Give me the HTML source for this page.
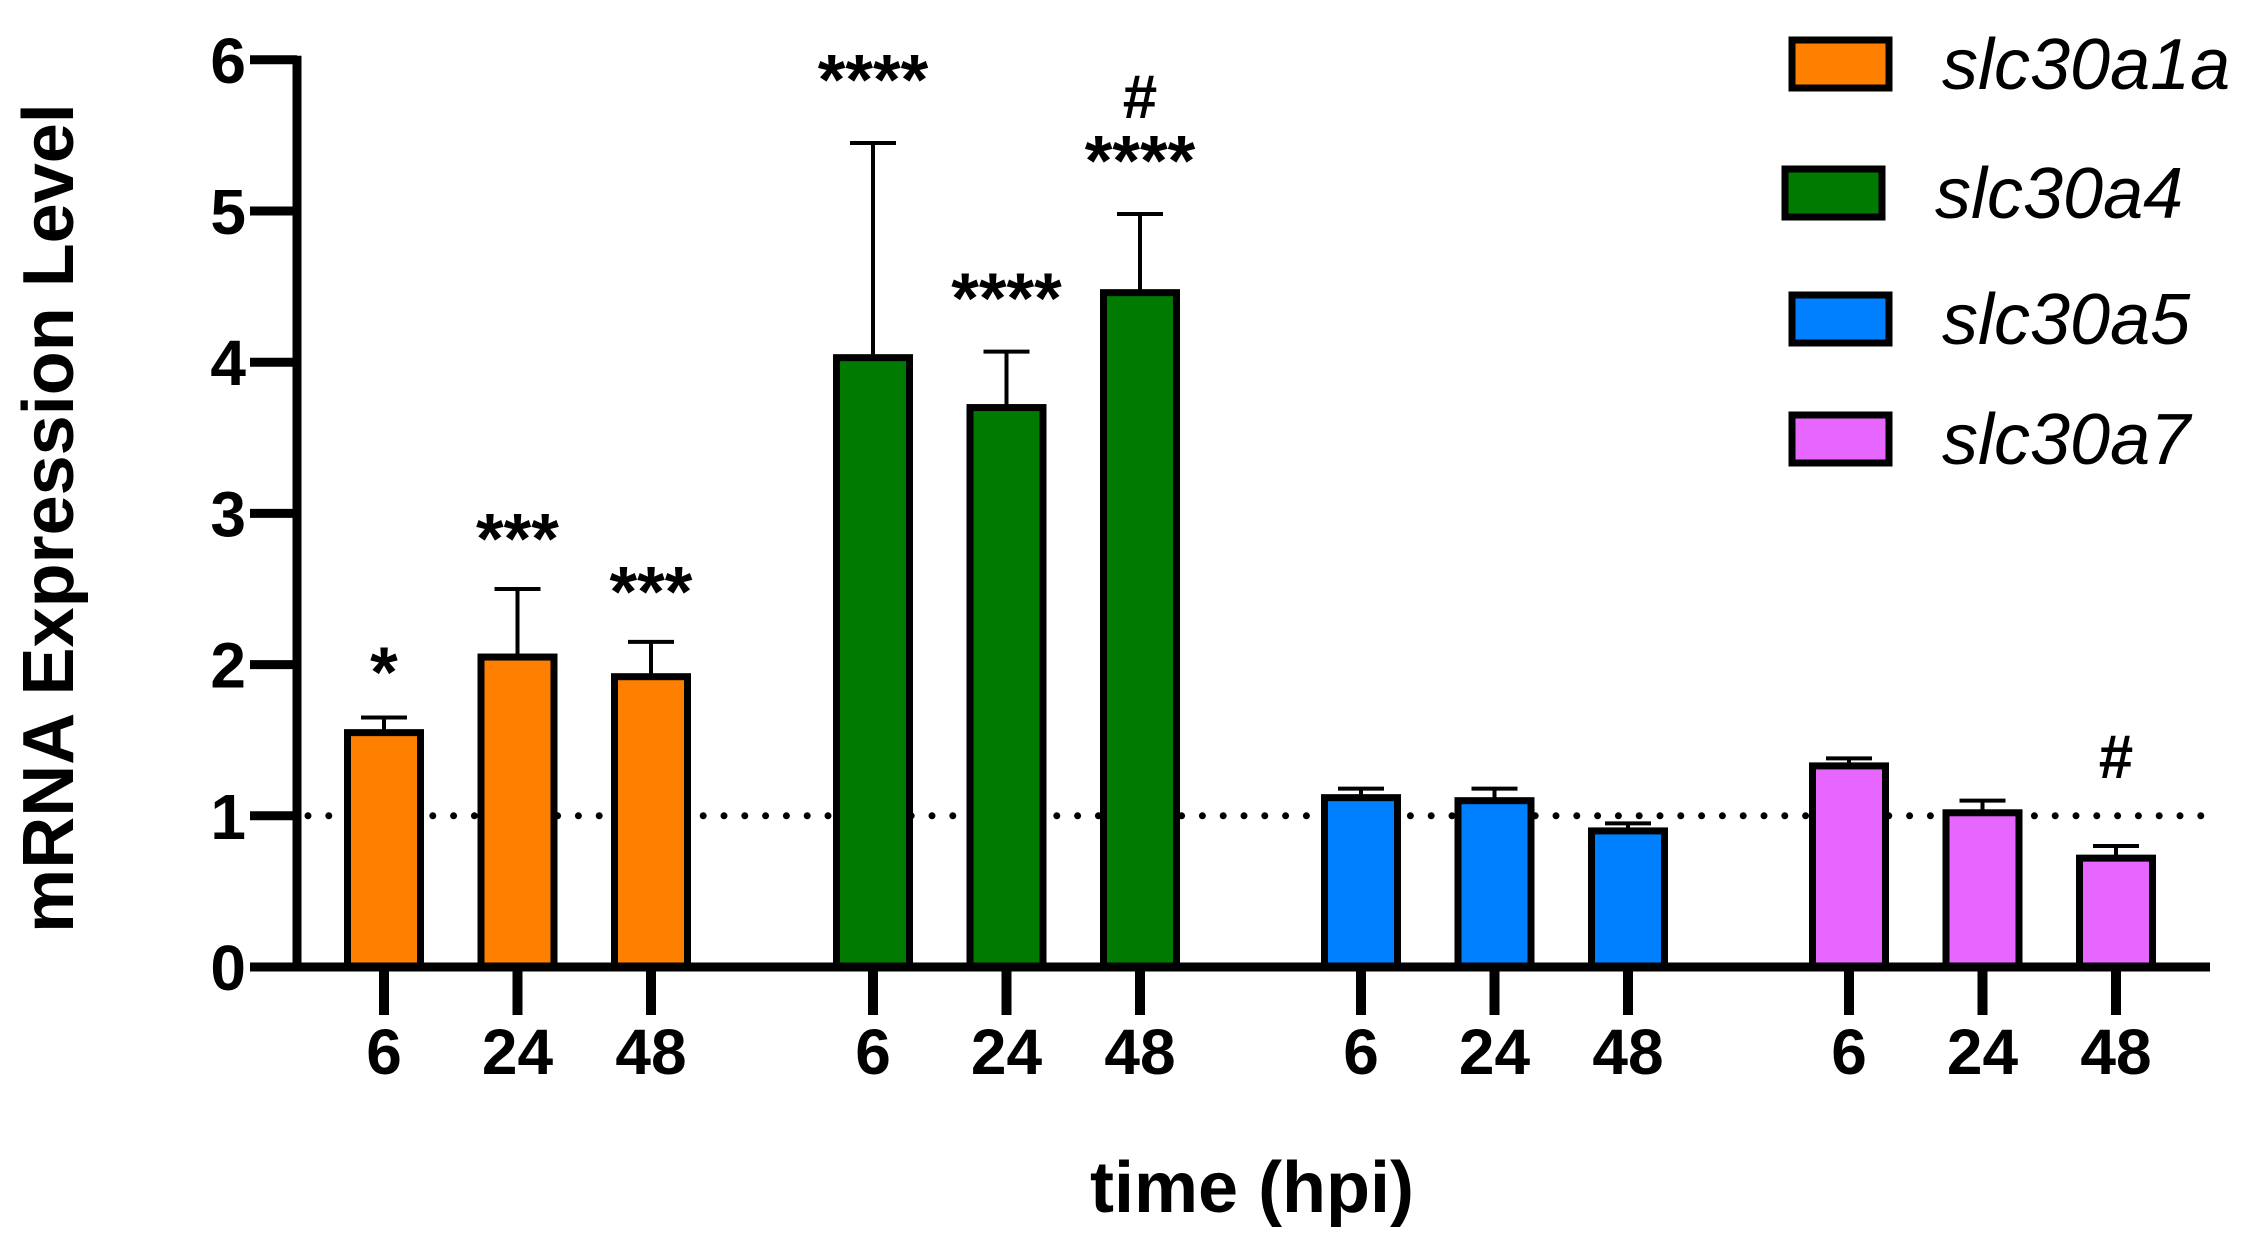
<!DOCTYPE html>
<html><head><meta charset="utf-8"><style>
html,body{margin:0;padding:0;background:#fff;}
svg{display:block;}
text{font-family:"Liberation Sans",Arial,sans-serif;}
</style></head><body>
<svg id="chart" width="2244" height="1248" viewBox="0 0 2244 1248" xmlns="http://www.w3.org/2000/svg">
<g id="dots"></g>
<g id="bars"></g>
<g id="axes"></g>
<g id="legend"></g>
<text x="0" y="0" transform="translate(73,518) rotate(-90)" text-anchor="middle" font-size="72" font-weight="bold">mRNA Expression Level</text>
<text x="1252" y="1212" text-anchor="middle" font-size="72" font-weight="bold">time (hpi)</text>
</svg>
<script>
const genes = ['slc30a1a','slc30a4','slc30a5','slc30a7'];
const colors = ['#ff8000','#007a00','#0080ff','#e666ff'];
const timeLabels = ['6','24','48'];
const means = [[1.55,2.05,1.92],[4.03,3.70,4.46],[1.12,1.10,0.90],[1.33,1.02,0.72]];
const errTops = [[1.65,2.50,2.15],[5.45,4.07,4.98],[1.18,1.18,0.95],[1.38,1.10,0.80]];
const stars = [['*','***','***'],['****','****','****'],['','',''],['','','']];
const hashes = [['','',''],['','','#'],['','',''],['','','#']];
const yTicks = [0,1,2,3,4,5,6];
const refValue = 1;

const NS='http://www.w3.org/2000/svg';
const y0=967, unit=151.2;
function y(v){return y0-v*unit;}
const groupStart=[384,873,1361,1849], step=133.5;
function x(g,i){return groupStart[g]+i*step;}
function mk(tag,attrs,parent,txt){const e=document.createElementNS(NS,tag);for(const k in attrs)e.setAttribute(k,attrs[k]);if(txt!==undefined)e.textContent=txt;parent.appendChild(e);return e;}

const dots=document.getElementById('dots');
const ref=mk('line',{x1:308,x2:2206,y1:y(refValue),y2:y(refValue),stroke:'#000','stroke-width':7,'stroke-dasharray':'0 20.8','stroke-linecap':'round'},dots);



const bars=document.getElementById('bars');
const bw=80;
genes.forEach((gname,g)=>{
  means[g].forEach((m,i)=>{
    const cx=x(g,i);
    const el=mk('line',{x1:cx,x2:cx,y1:y(m),y2:y(errTops[g][i]),stroke:'#000','stroke-width':4},bars);
    
    
    const cap=mk('line',{x1:cx-23,x2:cx+23,y1:y(errTops[g][i]),y2:y(errTops[g][i]),stroke:'#000','stroke-width':4},bars);
    
    
    const r=mk('rect',{x:cx-bw/2+3.5,y:y(m),width:bw-7,height:y0-y(m),fill:colors[g],stroke:'#000','stroke-width':7},bars);
    
    
    if(stars[g][i]){
      const sy=y(errTops[g][i])-(g===1&&i===2?45:g===1&&i===1?45:g===0&&i===0?37:g===0?42:55)-26;
      const t=mk('text',{x:cx,y:sy+42,'text-anchor':'middle','font-size':71,'font-weight':'bold'},bars,stars[g][i]);
      
      
    }
    if(hashes[g][i]){
      const hy = stars[g][i] ? y(errTops[g][i])-96 : y(errTops[g][i])-68;
      const t=mk('text',{x:cx,y:hy,'text-anchor':'middle','font-size':62,'font-weight':'bold'},bars,hashes[g][i]);
      
      
    }
  });
});

const axes=document.getElementById('axes');
const ya=mk('line',{x1:297,x2:297,y1:y(6)-4,y2:y0+4,stroke:'#000','stroke-width':9},axes);


const xa=mk('line',{x1:293,x2:2210,y1:y0,y2:y0,stroke:'#000','stroke-width':9},axes);


yTicks.forEach(v=>{
  const t=mk('line',{x1:250,x2:297,y1:y(v),y2:y(v),stroke:'#000','stroke-width':9},axes);
  
  
  const l=mk('text',{x:246,y:y(v)+23,'text-anchor':'end','font-size':64,'font-weight':'bold'},axes,String(v));
  
  
});
genes.forEach((gname,g)=>{
  timeLabels.forEach((tl,i)=>{
    const cx=x(g,i);
    const t=mk('line',{x1:cx,x2:cx,y1:y0,y2:1015,stroke:'#000','stroke-width':10},axes);
    
    
    const l=mk('text',{x:cx,y:1074,'text-anchor':'middle','font-size':64,'font-weight':'bold'},axes,tl);
    
    
  });
});

const legend=document.getElementById('legend');
const rowY=[64,193,319,439];
const boxX=[1792,1785,1792,1792];
genes.forEach((gname,g)=>{
  const r=mk('rect',{x:boxX[g],y:rowY[g]-24,width:97,height:48,fill:colors[g],stroke:'#000','stroke-width':7},legend);
  
  
  const t=mk('text',{x:g===1?1935:1942,y:rowY[g]+25,'font-size':72,'font-style':'italic'},legend,gname);
  
  
});
</script>
</body></html>
